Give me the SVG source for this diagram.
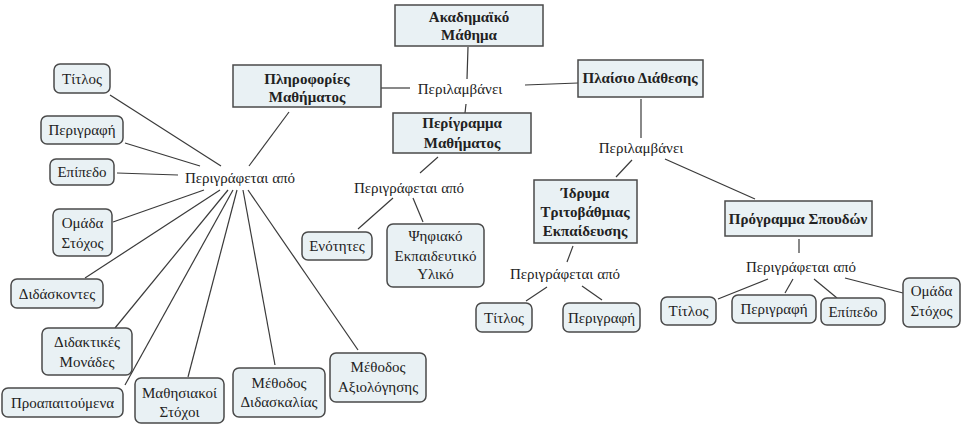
<svg xmlns="http://www.w3.org/2000/svg" width="961" height="424" viewBox="0 0 961 424">
<style>
.t{font-size:15px;fill:#222;text-anchor:middle;dominant-baseline:central}
.b{font-weight:bold}
.sq{fill:#e9f1f4;stroke:#4a4a4a;stroke-width:1.5}
.rd{fill:#e9f1f4;stroke:#4a4a4a;stroke-width:1.5}
#links line{stroke:#3a3a3a;stroke-width:1.2}
</style>
<rect width="961" height="424" fill="#fff"/>
<g id="links">
<line x1="468" y1="47" x2="467" y2="79"/>
<line x1="381" y1="88" x2="410" y2="88"/>
<line x1="525" y1="85" x2="578" y2="83"/>
<line x1="466" y1="104" x2="465" y2="113"/>
<line x1="289" y1="112" x2="249" y2="166"/>
<line x1="110" y1="95" x2="221" y2="166"/>
<line x1="125" y1="143" x2="200" y2="166"/>
<line x1="117" y1="173" x2="178" y2="175"/>
<line x1="204" y1="190" x2="113" y2="222"/>
<line x1="220" y1="190" x2="85" y2="278"/>
<line x1="228" y1="190" x2="115" y2="328"/>
<line x1="233" y1="190" x2="125" y2="385"/>
<line x1="237" y1="190" x2="188" y2="377"/>
<line x1="243" y1="190" x2="275" y2="365"/>
<line x1="248" y1="190" x2="358" y2="350"/>
<line x1="438" y1="157" x2="420" y2="173"/>
<line x1="393" y1="198" x2="358" y2="229"/>
<line x1="413" y1="198" x2="423" y2="222"/>
<line x1="641" y1="99" x2="641" y2="138"/>
<line x1="632" y1="160" x2="616" y2="177"/>
<line x1="665" y1="159" x2="755" y2="199"/>
<line x1="573" y1="246" x2="567" y2="262"/>
<line x1="547" y1="287" x2="526" y2="301"/>
<line x1="582" y1="286" x2="602" y2="300"/>
<line x1="799" y1="239" x2="799" y2="253"/>
<line x1="768" y1="279" x2="718" y2="299"/>
<line x1="793" y1="279" x2="785" y2="293"/>
<line x1="814" y1="279" x2="837" y2="298"/>
<line x1="845" y1="278" x2="903" y2="293"/>
</g>
<g font-family="'Liberation Serif', 'DejaVu Serif', serif">
<g id="lbl-incl1"><text class="t" x="460" y="89">Περιλαμβάνει</text></g>
<g id="lbl-desc1"><text class="t" x="240" y="178">Περιγράφεται από</text></g>
<g id="lbl-desc2"><text class="t" x="409" y="188">Περιγράφεται από</text></g>
<g id="lbl-incl2"><text class="t" x="641" y="148">Περιλαμβάνει</text></g>
<g id="lbl-desc3"><text class="t" x="565" y="274">Περιγράφεται από</text></g>
<g id="lbl-desc4"><text class="t" x="801" y="267">Περιγράφεται από</text></g>

<g id="n-akad"><rect class="sq" x="395" y="5" width="148" height="41"/><text class="t b" x="469" y="17">Ακαδημαϊκό</text><text class="t b" x="469" y="35">Μάθημα</text></g>
<g id="n-plir"><rect class="sq" x="233" y="65" width="148" height="42"/><text class="t b" x="307" y="79">Πληροφορίες</text><text class="t b" x="307" y="97">Μαθήματος</text></g>
<g id="n-perigr"><rect class="sq" x="393" y="113" width="138" height="40"/><text class="t b" x="462" y="123">Περίγραμμα</text><text class="t b" x="462" y="143">Μαθήματος</text></g>
<g id="n-plaisio"><rect class="sq" x="578" y="60" width="125" height="37"/><text class="t b" x="640" y="78">Πλαίσιο Διάθεσης</text></g>
<g id="n-idryma"><rect class="sq" x="534" y="180" width="103" height="63"/><text class="t b" x="585" y="193">Ίδρυμα</text><text class="t b" x="585" y="212">Τριτοβάθμιας</text><text class="t b" x="585" y="231">Εκπαίδευσης</text></g>
<g id="n-progr"><rect class="sq" x="725" y="201" width="147" height="35"/><text class="t b" x="798" y="219">Πρόγραμμα Σπουδών</text></g>

<g id="n-titlos1"><rect class="rd" x="54" y="64" width="56" height="29" rx="6"/><text class="t" x="82" y="78.5">Τίτλος</text></g>
<g id="n-perigrafi1"><rect class="rd" x="41" y="116" width="82" height="28" rx="6"/><text class="t" x="82" y="130">Περιγραφή</text></g>
<g id="n-epipedo1"><rect class="rd" x="50" y="159" width="64" height="26" rx="6"/><text class="t" x="82" y="172">Επίπεδο</text></g>
<g id="n-omada1"><rect class="rd" x="53" y="209" width="59" height="47" rx="6"/><text class="t" x="82.5" y="223">Ομάδα</text><text class="t" x="82.5" y="243">Στόχος</text></g>
<g id="n-didaskontes"><rect class="rd" x="11" y="279" width="92" height="29" rx="6"/><text class="t" x="57" y="293.5">Διδάσκοντες</text></g>
<g id="n-didaktikes"><rect class="rd" x="42" y="328" width="90" height="47" rx="6"/><text class="t" x="87" y="342">Διδακτικές</text><text class="t" x="87" y="362">Μονάδες</text></g>
<g id="n-proapait"><rect class="rd" x="2" y="388" width="121" height="29" rx="6"/><text class="t" x="62.5" y="402.5">Προαπαιτούμενα</text></g>
<g id="n-mathisiakoi"><rect class="rd" x="135" y="378" width="89" height="45" rx="6"/><text class="t" x="179.5" y="393">Μαθησιακοί</text><text class="t" x="179.5" y="412">Στόχοι</text></g>
<g id="n-methdid"><rect class="rd" x="233" y="368" width="92" height="49" rx="6"/><text class="t" x="279" y="383">Μέθοδος</text><text class="t" x="279" y="402">Διδασκαλίας</text></g>
<g id="n-methaxiol"><rect class="rd" x="330" y="353" width="96" height="49" rx="6"/><text class="t" x="378" y="367">Μέθοδος</text><text class="t" x="378" y="387">Αξιολόγησης</text></g>
<g id="n-enotites"><rect class="rd" x="302" y="232" width="70" height="28" rx="6"/><text class="t" x="337" y="246">Ενότητες</text></g>
<g id="n-psifiako"><rect class="rd" x="387" y="224" width="97" height="63" rx="6"/><text class="t" x="435.5" y="236">Ψηφιακό</text><text class="t" x="435.5" y="256">Εκπαιδευτικό</text><text class="t" x="435.5" y="274">Υλικό</text></g>
<g id="n-titlos2"><rect class="rd" x="476" y="303" width="56" height="29" rx="6"/><text class="t" x="504" y="317.5">Τίτλος</text></g>
<g id="n-perigrafi2"><rect class="rd" x="563" y="303" width="77" height="29" rx="6"/><text class="t" x="601.5" y="317.5">Περιγραφή</text></g>
<g id="n-titlos3"><rect class="rd" x="661" y="297" width="55" height="28" rx="6"/><text class="t" x="688.5" y="311">Τίτλος</text></g>
<g id="n-perigrafi3"><rect class="rd" x="732" y="295" width="84" height="28" rx="6"/><text class="t" x="774" y="309">Περιγραφή</text></g>
<g id="n-epipedo3"><rect class="rd" x="821" y="298" width="64" height="27" rx="6"/><text class="t" x="853" y="311.5">Επίπεδο</text></g>
<g id="n-omada3"><rect class="rd" x="903" y="278" width="57" height="49" rx="6"/><text class="t" x="931.5" y="291">Ομάδα</text><text class="t" x="931.5" y="311">Στόχος</text></g>
</g>
</svg>
